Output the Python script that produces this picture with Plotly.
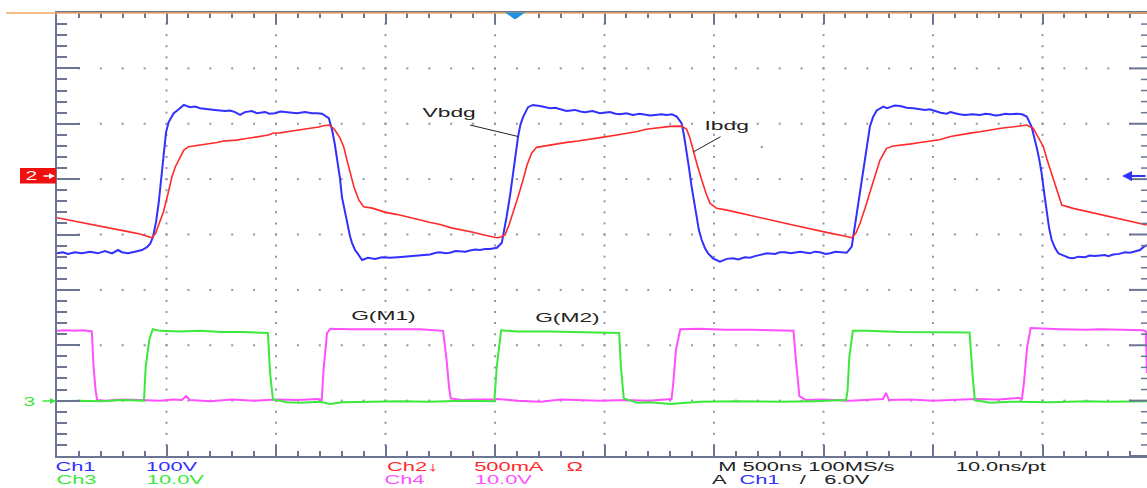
import plotly.graph_objects as go

# ---------------- data (time in ns from left edge of screen) ----------------
# Ch1 : Vbdg  (V)
vbdg_points = [
    (0, -134), (27, -132), (50, -135), (82, -132), (114, -134), (151, -131), (187, -134), (219, -130),
    (251, -134), (279, -128), (297, -132), (324, -134), (356, -131), (388, -128), (411, -123), (425, -117),
    (438, -105), (452, -78), (464, -44), (475, -2), (487, 52), (498, 85), (510, 103), (533, 119),
    (552, 125), (579, 134), (607, 130), (630, 131), (653, 128), (685, 127), (721, 125), (767, 123),
    (790, 124), (813, 121), (836, 116), (858, 121), (890, 123), (913, 119), (950, 121), (970, 118),
    (995, 119), (1020, 122), (1041, 121), (1064, 121), (1096, 119), (1132, 121), (1164, 119), (1187, 119),
    (1210, 118), (1241, 110), (1256, 89), (1269, 62), (1278, 40), (1292, 2), (1301, -32), (1315, -59),
    (1324, -79), (1338, -103), (1347, -115), (1361, -128), (1374, -135), (1393, -146), (1420, -142),
    (1452, -144), (1484, -141), (1520, -142), (1557, -141), (1589, -140), (1621, -139), (1648, -138),
    (1675, -137), (1703, -136), (1730, -133), (1749, -132), (1775, -134), (1794, -133), (1820, -130),
    (1840, -130), (1865, -131), (1886, -129), (1910, -127), (1931, -128), (1955, -126), (1977, -126),
    (2009, -124), (2031, -115), (2041, -95), (2053, -68), (2069, -29), (2082, 11), (2094, 49), (2105, 76),
    (2116, 98), (2128, 112), (2151, 130), (2173, 134), (2205, 132), (2230, 130), (2251, 128), (2275, 129),
    (2297, 126), (2327, 123), (2365, 125), (2390, 122), (2411, 121), (2445, 123), (2479, 119), (2500, 120),
    (2525, 121), (2550, 118), (2571, 117), (2600, 119), (2630, 116), (2660, 118), (2685, 117), (2710, 115),
    (2731, 116), (2760, 117), (2784, 116), (2808, 117), (2830, 113), (2852, 101), (2863, 79), (2875, 52),
    (2886, 20), (2898, -14), (2909, -43), (2921, -68), (2931, -92), (2944, -110), (2959, -125), (2973, -134),
    (2995, -143), (3027, -149), (3059, -144), (3087, -143), (3110, -145), (3141, -141), (3165, -142),
    (3187, -139), (3215, -137), (3241, -134), (3279, -135), (3300, -132), (3324, -132), (3350, -134),
    (3393, -131), (3438, -134), (3460, -131), (3484, -132), (3510, -135), (3530, -134), (3555, -131),
    (3575, -132), (3606, -133), (3629, -122), (3639, -95), (3652, -68), (3667, -20), (3682, 22), (3697, 61),
    (3712, 95), (3726, 112), (3743, 124), (3773, 131), (3790, 128), (3804, 130), (3825, 133), (3850, 132),
    (3880, 129), (3910, 128), (3940, 127), (3964, 125), (3985, 126), (4009, 123), (4035, 120), (4062, 118),
    (4080, 121), (4100, 119), (4120, 117), (4146, 116), (4180, 117), (4215, 116), (4240, 118), (4260, 117),
    (4285, 115), (4306, 116), (4330, 118), (4352, 117), (4382, 118), (4406, 117), (4428, 113), (4450, 95),
    (4461, 79), (4473, 58), (4484, 38), (4496, 11), (4507, -23), (4519, -62), (4530, -88), (4542, -110),
    (4557, -124), (4572, -134), (4603, -139), (4620, -142), (4640, -143), (4665, -140), (4694, -141),
    (4715, -138), (4740, -139), (4760, -138), (4785, -137), (4800, -139), (4823, -136), (4850, -135),
    (4877, -132), (4900, -133), (4922, -130), (4945, -128), (4963, -122), (4977, -119),
]

# Ch2 : Ibdg  (mA)
ibdg_points = [
    (0, -349), (50, -368), (105, -387), (150, -402), (196, -423), (240, -440), (288, -460), (330, -476),
    (379, -496), (410, -512), (434, -529), (450, -490), (465, -410), (487, -290), (507, -130), (525, 22),
    (540, 110), (556, 172), (579, 262), (601, 293), (630, 300), (653, 308), (680, 312), (700, 318),
    (730, 330), (761, 344), (790, 346), (820, 352), (850, 362), (881, 372), (910, 378), (940, 390),
    (965, 398), (989, 416), (1020, 418), (1050, 428), (1080, 436), (1110, 443), (1140, 452), (1170, 462),
    (1195, 470), (1218, 482), (1241, 488), (1256, 470), (1269, 443), (1292, 372), (1309, 293), (1324, 172),
    (1338, 55), (1356, -71), (1378, -188), (1400, -249), (1440, -262), (1500, -300), (1550, -318),
    (1600, -345), (1650, -365), (1700, -390), (1750, -410), (1800, -440), (1850, -458), (1900, -480),
    (1950, -505), (1985, -520), (2008, -529), (2027, -523), (2045, -505), (2064, -414), (2082, -306),
    (2105, -162), (2128, -8), (2146, 126), (2167, 235), (2190, 287), (2230, 300), (2280, 318), (2327, 332),
    (2380, 345), (2430, 362), (2480, 375), (2556, 398), (2600, 410), (2650, 430), (2690, 450), (2721, 459),
    (2760, 468), (2800, 476), (2852, 479), (2875, 450), (2890, 371), (2904, 262), (2922, 136), (2944, -8),
    (2963, -126), (2982, -219), (3012, -264), (3060, -280), (3110, -302), (3160, -325), (3210, -342),
    (3260, -370), (3310, -392), (3360, -415), (3393, -430), (3440, -450), (3490, -475), (3540, -492),
    (3590, -512), (3629, -529), (3648, -487), (3667, -399), (3690, -261), (3712, -128), (3735, 28),
    (3758, 172), (3788, 278), (3819, 299), (3860, 306), (3900, 318), (3940, 330), (3986, 344), (4030, 356),
    (4080, 385), (4130, 398), (4170, 415), (4215, 428), (4260, 445), (4310, 460), (4360, 470), (4400, 478),
    (4428, 488), (4458, 459), (4479, 389), (4504, 293), (4520, 181), (4542, 52), (4562, -80), (4588, -234),
    (4640, -264), (4700, -290), (4750, -315), (4808, -342), (4860, -365), (4920, -390), (4976, -414),
]

# Ch4 : G(M1)  (V)
gm1_points = [
    (0, 12.6), (40, 12.7), (82, 12.6), (120, 12.7), (159, 12.5), (167, 6.1), (176, 2.0), (183, 0.1),
    (220, 0.0), (300, 0.2), (380, 0.1), (470, 0.0), (530, 0.2), (570, 0.1), (589, 0.8), (607, 0.1),
    (700, -0.1), (800, 0.2), (900, 0.0), (1000, 0.2), (1100, 0.1), (1190, 0.3), (1209, 0.1), (1217, 5.5),
    (1233, 12.2), (1249, 13.0), (1338, 12.9), (1450, 12.9), (1566, 12.8), (1660, 12.9), (1763, 12.6),
    (1779, 7.3), (1790, 2.5), (1798, 0.4), (1850, 0.1), (1900, 0.2), (1997, 0.2), (2010, 0.3), (2100, 0.0),
    (2210, -0.2), (2300, 0.2), (2400, 0.1), (2479, 0.0), (2600, 0.1), (2700, 0.0), (2806, 0.3), (2814, 3.1),
    (2826, 9.1), (2846, 12.9), (2936, 13.0), (3050, 12.8), (3164, 12.8), (3280, 12.7), (3363, 12.6),
    (3374, 7.3), (3390, 0.8), (3420, 0.1), (3500, 0.2), (3621, 0.0), (3700, 0.1), (3772, 0.3), (3785, 1.4),
    (3799, 0.1), (3900, 0.2), (4000, 0.0), (4077, 0.1), (4200, 0.3), (4300, 0.2), (4390, 0.5), (4406, 0.3),
    (4415, 3.1), (4430, 9.7), (4446, 13.1), (4580, 12.9), (4700, 12.8), (4762, 12.9), (4880, 12.8),
    (4960, 12.7), (4972, 12.5), (4977, 5.0),
]

# Ch3 : G(M2)  (V)
gm2_points = [
    (0, -0.1), (100, 0.0), (200, -0.1), (300, 0.1), (397, 0.0), (405, 6.1), (421, 10.9), (437, 12.9),
    (470, 12.6), (560, 12.5), (653, 12.6), (750, 12.4), (850, 12.4), (963, 12.2), (973, 5.0), (986, 0.2),
    (1050, -0.3), (1110, -0.4), (1200, -0.2), (1247, -0.6), (1300, -0.3), (1400, -0.2), (1566, -0.1),
    (1700, -0.2), (1850, 0.0), (1997, -0.1), (2008, 6.1), (2028, 12.7), (2100, 12.5), (2251, 12.5),
    (2400, 12.3), (2493, 12.3), (2567, 12.2), (2575, 6.1), (2588, 0.4), (2650, -0.4), (2708, -0.3),
    (2800, -0.6), (2936, -0.2), (3100, -0.1), (3300, -0.2), (3450, -0.1), (3603, 0.1), (3610, 1.9),
    (3618, 7.9), (3634, 12.6), (3700, 12.6), (3849, 12.4), (4000, 12.3), (4167, 12.3), (4180, 5.0),
    (4191, 0.1), (4260, -0.4), (4350, -0.2), (4534, -0.3), (4700, -0.1), (4800, -0.2), (4977, -0.1),
]

# status-line texts
row1_texts = ["Ch1", "100V", "Ch2\u2193", "500mA", "\u03a9", "M 500ns 100MS/s", "10.0ns/pt"]
row2_texts = ["Ch3", "10.0V", "Ch4", "10.0V", "A", "Ch1", "/", "6.0V"]
trace_labels = ["Vbdg", "Ibdg", "G(M1)", "G(M2)"]

# scope settings
ns_per_div = 500
ch1_v_per_div = 100
ch2_ma_per_div = 500
ch34_v_per_div = 10

# ---------------- layout geometry ----------------
W, H = 1147, 488
ML, MT, MB = 57, 13, 32
PW = W - ML
PH = H - MT - MB
DIV_PX = 109.5
x_max = PW / DIV_PX * ns_per_div

def px(xp):
    return (xp - ML) / PW

def py(yp):
    return (H - MB - yp) / PH

FRAME = "#6c7494"
DOT = "#8e95b0"
BLUE = "#3030ff"
RED = "#ff2a2a"
PINK = "#ff50ff"
GREEN = "#3ce83c"
FONT = "Liberation Sans, Arial, sans-serif"

fig = go.Figure()

# graticule dots
gx, gy = [], []
for k in range(1, 8):
    for j in range(1, 50):
        gx.append(j * ns_per_div / 5)
        gy.append(k)
for k in range(1, 10):
    for j in range(1, 40):
        gx.append(k * ns_per_div)
        gy.append(j / 5)
fig.add_trace(go.Scatter(x=gx, y=gy, mode="markers", xaxis="x", yaxis="y",
                         marker=dict(symbol="square", size=2, color=DOT, line=dict(width=0)),
                         hoverinfo="skip", showlegend=False))

def unzip(points):
    return [p[0] for p in points], [p[1] for p in points]

t, v = unzip(gm1_points)
fig.add_trace(go.Scatter(x=t, y=v, mode="lines", yaxis="y4", line=dict(color=PINK, width=2),
                         name="G(M1)", showlegend=False))
t, v = unzip(gm2_points)
fig.add_trace(go.Scatter(x=t, y=v, mode="lines", yaxis="y4", line=dict(color=GREEN, width=2),
                         name="G(M2)", showlegend=False))
t, v = unzip(vbdg_points)
fig.add_trace(go.Scatter(x=t, y=v, mode="lines", yaxis="y2", line=dict(color=BLUE, width=2),
                         name="Vbdg", showlegend=False))
t, v = unzip(ibdg_points)
fig.add_trace(go.Scatter(x=t, y=v, mode="lines", yaxis="y3", line=dict(color=RED, width=1.6),
                         name="Ibdg", showlegend=False))

shapes = []
# right-edge frame ticks (frame itself lies just beyond the screen)
for j in range(0, 41):
    major = (j % 5 == 0)
    shapes.append(dict(type="line", xref="paper", yref="y", x0=px(1129 if major else 1141), x1=1.0,
                       y0=j / 5, y1=j / 5, line=dict(color=FRAME, width=2 if major else 1.5)))
# orange top line
shapes.append(dict(type="line", xref="paper", yref="paper", x0=px(6), x1=1.0, y0=1.0, y1=1.0,
                   line=dict(color="#f2a866", width=1.5)))
# trigger position marker
shapes.append(dict(type="path", xref="paper", yref="paper",
                   path="M %f,%f L %f,%f L %f,%f Z" % (px(505), py(12.5), px(525), py(12.5), px(515), py(19.5)),
                   fillcolor="#1d92e0", line=dict(width=0)))
# channel 2 marker box
shapes.append(dict(type="rect", xref="paper", yref="paper", x0=px(20), x1=px(56), y0=py(183.5), y1=py(168),
                   fillcolor="#f01010", line=dict(width=0)))
# leader lines
shapes.append(dict(type="line", xref="x", yref="y2", x0=1886, y0=97.7, x1=2106, y1=76.9,
                   line=dict(color="#222222", width=1)))
shapes.append(dict(type="line", xref="x", yref="y3", x0=3030, y0=383, x1=2905, y1=245,
                   line=dict(color="#222222", width=1)))
shapes.append(dict(type="line", xref="x", yref="y3", x0=3214, y0=290, x1=3223, y1=290,
                   line=dict(color="#222222", width=1)))

annotations = []
# trace labels
label_pos = [(1790, 120, "y2"), (3057, 480, "y3"), (1491, 15.4, "y4"), (2333, 15.1, "y4")]
for txt, (lx, ly, yr) in zip(trace_labels, label_pos):
    annotations.append(dict(text=txt, x=lx, y=ly, xref="x", yref=yr, showarrow=False,
                            xanchor="center", yanchor="middle",
                            font=dict(family=FONT, size=13, color="#222222")))

# status lines
row1_px = [75.6, 172.2, 412.3, 509.0, 574.8, 806.0, 1001.0]
row1_col = [BLUE, BLUE, RED, RED, RED, "#222222", "#222222"]
row2_px = [76.5, 175.0, 404.8, 503.0, 719.4, 759.0, 803.0, 847.0]
row2_col = [GREEN, GREEN, PINK, PINK, "#222222", BLUE, "#222222", "#222222"]
for txt, xp, c in zip(row1_texts, row1_px, row1_col):
    annotations.append(dict(text=txt, x=px(xp), y=py(467), xref="paper", yref="paper", showarrow=False,
                            xanchor="center", yanchor="middle", font=dict(family=FONT, size=12.5, color=c)))
for txt, xp, c in zip(row2_texts, row2_px, row2_col):
    annotations.append(dict(text=txt, x=px(xp), y=py(479.5), xref="paper", yref="paper", showarrow=False,
                            xanchor="center", yanchor="middle", font=dict(family=FONT, size=12.5, color=c)))

# channel markers on the left edge
annotations.append(dict(text="2", x=px(31), y=py(176), xref="paper", yref="paper", showarrow=False,
                        xanchor="center", yanchor="middle", font=dict(family=FONT, size=12, color="white")))
annotations.append(dict(text="", x=px(55), y=py(176), xref="paper", yref="paper", showarrow=True,
                        ax=-13, ay=0, arrowhead=2, arrowsize=0.8, arrowwidth=1.5, arrowcolor="white"))
annotations.append(dict(text="3", x=px(29), y=py(402), xref="paper", yref="paper", showarrow=False,
                        xanchor="center", yanchor="middle", font=dict(family=FONT, size=12, color=GREEN)))
annotations.append(dict(text="", x=px(56), y=py(401), xref="paper", yref="paper", showarrow=True,
                        ax=-15, ay=0, arrowhead=2, arrowsize=0.8, arrowwidth=1.5, arrowcolor=GREEN))
# trigger level arrow on right edge
annotations.append(dict(text="", x=px(1122), y=py(176), xref="paper", yref="paper", showarrow=True,
                        ax=25, ay=0, arrowhead=2, arrowsize=1, arrowwidth=2, arrowcolor=BLUE))

fig.update_layout(
    width=W, height=H,
    margin=dict(l=ML, r=0, t=MT, b=MB, pad=0),
    paper_bgcolor="white", plot_bgcolor="white",
    showlegend=False,
    xaxis=dict(range=[0, x_max], showgrid=False, zeroline=False, showticklabels=False,
               showline=True, linecolor=FRAME, linewidth=2, mirror="ticks",
               ticks="inside", ticklen=11, tickwidth=2, tickcolor=FRAME, tick0=0, dtick=ns_per_div,
               minor=dict(ticks="inside", ticklen=5, tickwidth=1.5, tickcolor=FRAME, dtick=ns_per_div / 5,
                          showgrid=False)),
    yaxis=dict(range=[0, 8], showgrid=False, zeroline=False, showticklabels=False,
               showline=True, linecolor=FRAME, linewidth=2,
               ticks="inside", ticklen=23, tickwidth=2, tickcolor=FRAME, tick0=0, dtick=1,
               minor=dict(ticks="inside", ticklen=10, tickwidth=1.5, tickcolor=FRAME, dtick=0.2,
                          showgrid=False)),
    yaxis2=dict(overlaying="y", range=[-5 * ch1_v_per_div, 3 * ch1_v_per_div], visible=False),
    yaxis3=dict(overlaying="y", range=[-5 * ch2_ma_per_div, 3 * ch2_ma_per_div], visible=False),
    yaxis4=dict(overlaying="y", range=[-1 * ch34_v_per_div, 7 * ch34_v_per_div], visible=False),
    shapes=shapes,
    annotations=annotations,
)

post = """
var gd = document.getElementById('{plot_id}');
function stretchText(){
  var els = gd.querySelectorAll('g.annotation text.annotation-text');
  els.forEach(function(t){
    if (t.getAttribute('lengthAdjust')) return;
    var w = t.getComputedTextLength();
    if (w > 0) { t.setAttribute('textLength', (w * 1.75).toFixed(1)); t.setAttribute('lengthAdjust', 'spacingAndGlyphs'); }
  });
}
stretchText();
gd.on('plotly_afterplot', stretchText);
"""

fig.write_html("out.html", post_script=post, config={"displayModeBar": False})
